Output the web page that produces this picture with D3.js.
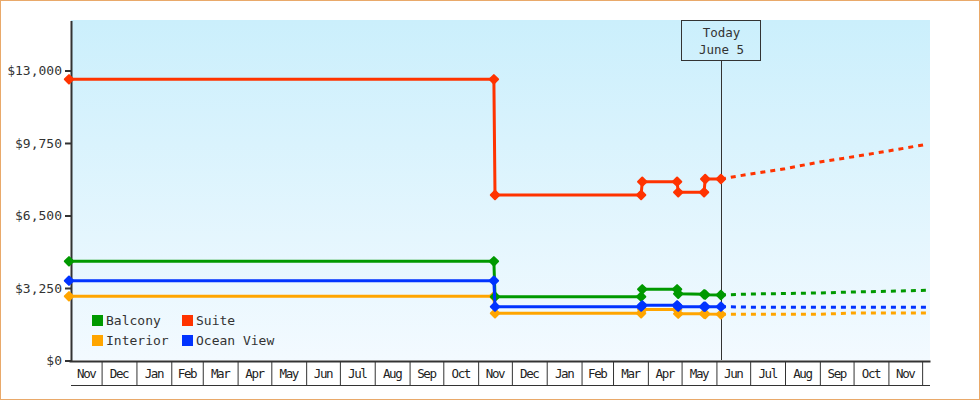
<!DOCTYPE html>
<html>
<head>
<meta charset="utf-8">
<script src="https://cdn.jsdelivr.net/npm/d3@7"></script>
<style>
  body { margin: 0; background: #fff; }
  svg { display: block; font-family: "DejaVu Sans Mono", monospace; }
  .axis text { fill: #333; }
</style>
</head>
<body>
<div id="chart"></div>
<script>
// price history (step changes)
const histDates = ["2016-11-02", "2017-11-15", "2017-11-16", "2018-03-26", "2018-03-27",
                   "2018-04-27", "2018-04-28", "2018-05-21", "2018-05-22", "2018-06-05"];
const balcony   = [4447, 4447, 2860, 2860, 3192, 3192, 2990, 2968, 2950, 2936];
const suite     = [12605, 12605, 7419, 7419, 8015, 8015, 7540, 7540, 8136, 8136];
const interior  = [2878, 2878, 2116, 2116, 2286, 2286, 2098, 2098, 2085, 2071];
const oceanView = [3577, 3577, 2412, 2412, 2474, 2474, 2412, 2412, 2412, 2412];

// forecast after today (dotted)
const fcDates      = ["2018-06-05", "2018-07-01", "2018-08-01", "2018-09-01", "2018-10-01", "2018-11-01", "2018-12-05"];
const balconyFc    = [2936, 2981, 3003, 3026, 3071, 3102, 3147];
const suiteFc      = [8136, 8360, 8598, 8898, 9136, 9391, 9692];
const interiorFc   = [2071, 2071, 2071, 2071, 2130, 2130, 2130];
const oceanViewFc  = [2412, 2390, 2390, 2390, 2390, 2390, 2390];

const seriesNames  = ["Balcony", "Suite", "Interior", "Ocean View"];
const seriesColors = ["#009900", "#ff3300", "#ffa500", "#0033ff"];

const yTicks = [0, 3250, 6500, 9750, 13000];
const domainDates = ["2016-11-02", "2018-12-08"];
const todayDate = "2018-06-05";
const todayLabel = ["Today", "June 5"];

const parse = d3.timeParse("%Y-%m-%d");

const W = 980, H = 400;
const plot = {left: 69, right: 930, top: 20, bottom: 360};

const svg = d3.select("#chart")
    .append("svg")
    .attr("width", W)
    .attr("height", H);

const defs = svg.append("defs");
const grad = defs.append("linearGradient")
    .attr("id", "bg")
    .attr("x1", 0).attr("y1", 0).attr("x2", 0).attr("y2", 1);
grad.append("stop").attr("offset", "0%").attr("stop-color", "#cbeffc");
grad.append("stop").attr("offset", "100%").attr("stop-color", "#f3faff");

// outer border
svg.append("rect")
    .attr("x", 0.5).attr("y", 0.5)
    .attr("width", W - 1).attr("height", H - 1)
    .attr("fill", "#fff")
    .attr("stroke", "#e9a96a");

svg.append("rect")
    .attr("x", 71).attr("y", plot.top)
    .attr("width", plot.right - 71).attr("height", plot.bottom - plot.top)
    .attr("fill", "url(#bg)");

const x = d3.scaleTime()
    .domain(domainDates.map(parse))
    .range([plot.left, plot.right]);

const y = d3.scaleLinear()
    .domain([0, 15240])
    .range([360.5, 20.5]);

// y axis
const yAxGr = svg.append("g")
    .attr("class", "axis")
    .attr("transform", "translate(71,0)")
    .call(d3.axisLeft(y)
        .tickValues(yTicks)
        .tickSize(6)
        .tickSizeOuter(0)
        .tickPadding(3)
        .tickFormat(d => "$" + d3.format(",")(d)));
yAxGr.selectAll("text").attr("font-size", 13).attr("font-family", "DejaVu Sans Mono");
yAxGr.selectAll("line").attr("stroke", "#333").attr("stroke-width", 2);
yAxGr.select(".domain").attr("stroke", "#333").attr("stroke-width", 2);

// x axis: month cells
const monthStarts = d3.timeMonth.range(d3.timeMonth.ceil(x.domain()[0]), x.domain()[1]);
const xAxGr = svg.append("g")
    .attr("class", "axis")
    .attr("transform", "translate(0,361)")
    .call(d3.axisBottom(x)
        .tickValues(monthStarts)
        .tickSize(24)
        .tickSizeOuter(0)
        .tickFormat(""));
xAxGr.selectAll("line").attr("stroke", "#333");
xAxGr.select(".domain").attr("stroke", "#333").attr("stroke-width", 2);

svg.append("line")
    .attr("x1", 71).attr("x2", plot.right)
    .attr("y1", 385.5).attr("y2", 385.5)
    .attr("stroke", "#333");

const cells = [x.domain()[0]].concat(monthStarts);
const monthFmt = d3.timeFormat("%b");
svg.append("g")
    .selectAll("text")
    .data(cells.slice(0, -1))
    .join("text")
    .attr("x", (d, i) => (Math.max(x(d), 71) + x(cells[i + 1])) / 2)
    .attr("y", 378)
    .attr("text-anchor", "middle")
    .attr("font-size", 12.5)
    .attr("letter-spacing", -1.4)
    .attr("fill", "#222")
    .text(d => monthFmt(d3.timeDay.offset(d, 1)));

// today marker
const tx = x(parse(todayDate));
svg.append("line")
    .attr("x1", Math.round(tx) + 0.5).attr("x2", Math.round(tx) + 0.5)
    .attr("y1", 60.5).attr("y2", 360)
    .attr("stroke", "#333");
svg.append("rect")
    .attr("x", Math.round(tx) - 39.5).attr("y", 20.5)
    .attr("width", 79).attr("height", 40)
    .attr("fill", "none")
    .attr("stroke", "#333");
svg.append("g")
    .selectAll("text")
    .data(todayLabel)
    .join("text")
    .attr("x", Math.round(tx) + 0.5)
    .attr("y", (d, i) => 37 + i * 17)
    .attr("text-anchor", "middle")
    .attr("font-size", 12.5)
    .attr("fill", "#333")
    .text(d => d);

// lines
const histValues = [balcony, suite, interior, oceanView];
const fcValues = [balconyFc, suiteFc, interiorFc, oceanViewFc];

const line = d3.line()
    .x(d => x(d.date))
    .y(d => y(d.value));

const drawOrder = [2, 0, 1, 3];
const diamond = "M0,-4.2L4.2,0L0,4.2L-4.2,0Z";

drawOrder.forEach(k => {
    const hist = histDates.map((d, i) => ({date: parse(d), value: histValues[k][i]}));
    const fc = fcDates.map((d, i) => ({date: parse(d), value: fcValues[k][i]}));
    const g = svg.append("g");

    g.append("path")
        .datum(fc)
        .attr("d", line)
        .attr("fill", "none")
        .attr("stroke", seriesColors[k])
        .attr("stroke-width", 3)
        .attr("stroke-dasharray", "5,5");

    g.append("path")
        .datum(hist)
        .attr("d", line)
        .attr("fill", "none")
        .attr("stroke", seriesColors[k])
        .attr("stroke-width", 3);

    g.selectAll(".pt")
        .data(hist)
        .join("path")
        .attr("class", "pt")
        .attr("d", diamond)
        .attr("transform", d => `translate(${x(d.date)},${y(d.value)})`)
        .attr("fill", seriesColors[k])
        .attr("stroke", seriesColors[k])
        .attr("stroke-width", 2)
        .attr("stroke-linejoin", "round");
});

// legend
const legend = svg.append("g")
    .attr("transform", "translate(92,315)");
const lg = legend.selectAll("g")
    .data(seriesNames)
    .join("g")
    .attr("transform", (d, i) => `translate(${(i % 2) * 90},${Math.floor(i / 2) * 20})`);
lg.append("rect")
    .attr("width", 11).attr("height", 11)
    .attr("fill", (d, i) => seriesColors[i]);
lg.append("text")
    .attr("x", 14)
    .attr("y", 10)
    .attr("font-size", 13)
    .attr("fill", "#333")
    .text(d => d);
</script>
</body>
</html>
